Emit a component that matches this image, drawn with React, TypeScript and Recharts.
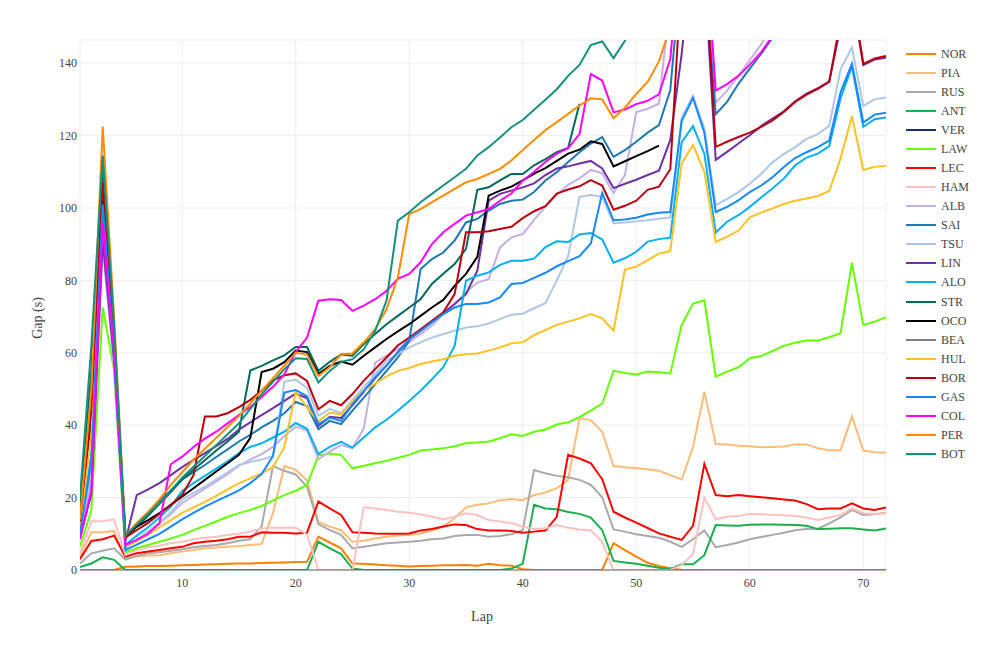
import React from 'react';
import { LineChart, Line, XAxis, YAxis, CartesianGrid } from 'recharts';

type V = number | null;

const laps: number[] = [
  1, 2, 3, 4, 5, 6, 7, 8, 9, 10, 11, 12, 13, 14, 15, 16, 17, 18, 19, 20,
  21, 22, 23, 24, 25, 26, 27, 28, 29, 30, 31, 32, 33, 34, 35, 36, 37, 38, 39, 40,
  41, 42, 43, 44, 45, 46, 47, 48, 49, 50, 51, 52, 53, 54, 55, 56, 57, 58, 59, 60,
  61, 62, 63, 64, 65, 66, 67, 68, 69, 70, 71, 72,
];

const xTicks = [10, 20, 30, 40, 50, 60, 70];
const yTicks = [0, 20, 40, 60, 80, 100, 120, 140];

const NOR: V[] = [
  0, 0, 0, 0, 0.9, 1.0, 1.1, 1.1, 1.2, 1.3,
  1.4, 1.5, 1.6, 1.7, 1.8, 1.8, 1.9, 2.0, 2.1, 2.2,
  2.3, 9.2, 7.6, 6.0, 1.8, 1.7, 1.5, 1.3, 1.2, 1.0,
  1.1, 1.2, 1.3, 1.3, 1.4, 1.2, 1.7, 1.3, 1.2, 0.2,
  0, 0, 0, 0, 0, 0, 0, 7.4, 5.5, 3.7,
  2.0, 1.1, 0.5, 0, 0, 0, 0, 0, 0, 0,
  0, 0, 0, 0, 0, 0, 0, 0, 0, 0,
  0, 0,
];
const PIA: V[] = [
  3.7, 10.4, 10.4, 10.8, 3.2, 3.7, 4.0, 4.1, 4.6, 5.1,
  5.5, 6.0, 6.2, 6.4, 6.6, 6.9, 7.2, 15.7, 28.7, 27.7,
  24.7, 13.3, 12.0, 11.0, 7.8, 8.1, 8.7, 9.2, 9.5, 9.7,
  10.1, 10.9, 12.0, 14.3, 17.3, 18.0, 18.4, 19.3, 19.6, 19.3,
  20.7, 21.4, 22.6, 24.9, 41.9, 41.4, 38.2, 28.7, 28.4, 28.1,
  27.8, 27.4, 26.2, 25.0, 34.0, 49.2, 34.8, 34.7, 34.3, 34.2,
  33.9, 34.0, 34.1, 34.7, 34.7, 33.6, 33.1, 33.1, 42.5, 33.0,
  32.5, 32.4,
];
const RUS: V[] = [
  1.8, 4.6, 5.3, 6.0, 2.9, 3.9, 4.6, 4.9, 5.3, 5.7,
  6.3, 6.6, 6.9, 7.4, 8.1, 8.5, 12.0, 28.7, 27.4, 26.4,
  23.0, 12.7, 11.0, 9.7, 6.0, 6.4, 6.9, 7.4, 7.6, 7.8,
  8.1, 8.5, 8.7, 9.4, 9.7, 9.7, 9.2, 9.4, 9.9, 11.0,
  27.6, 26.7, 26.0, 25.6, 24.9, 23.5, 20.1, 11.2, 10.6, 9.9,
  9.4, 8.9, 7.8, 6.4, 8.5, 10.9, 6.3, 6.9, 7.6, 8.5,
  9.1, 9.7, 10.3, 11.0, 11.3, 11.4, 12.9, 14.5, 16.6, 15.2,
  15.4, 15.8,
];
const ANT: V[] = [
  0.8, 1.8, 3.5, 2.8, 0, 0, 0, 0, 0, 0,
  0, 0, 0, 0, 0, 0, 0, 0, 0, 0,
  0, 7.8, 6.0, 4.4, 0.4, 0, 0, 0, 0, 0,
  0, 0, 0, 0, 0, 0, 0, 0, 0.4, 1.7,
  18.0, 17.0, 16.8, 16.0, 15.5, 14.5, 11.0, 2.5, 2.1, 1.7,
  1.2, 0.6, 0.3, 1.6, 1.6, 4.1, 12.4, 12.3, 12.2, 12.5,
  12.6, 12.6, 12.5, 12.4, 12.2, 11.3, 11.4, 11.5, 11.5, 11.2,
  10.9, 11.5,
];
const VER: V[] = [];
const LAW: V[] = [
  6.5, 16.4, 72.5, 55.3, 4.8, 6.0, 6.9, 7.8, 8.7, 9.7,
  11.0, 12.2, 13.4, 14.7, 15.7, 16.6, 17.7, 19.2, 20.7, 21.9,
  23.5, 31.6, 32.2, 31.8, 28.1, 28.8, 29.5, 30.2, 31.0, 31.8,
  33.0, 33.3, 33.6, 34.2, 35.0, 35.2, 35.5, 36.4, 37.5, 37.0,
  38.2, 38.8, 40.2, 40.8, 42.2, 44.0, 46.0, 55.0, 54.4, 54.0,
  54.8, 54.6, 54.3, 67.7, 73.6, 74.5, 53.4, 54.8, 56.0, 58.5,
  59.1, 60.5, 61.9, 62.8, 63.4, 63.4, 64.3, 65.4, 84.9, 67.7,
  68.6, 69.8,
];
const LEC: V[] = [
  3.0, 8.0, 8.5, 9.5, 3.7, 4.6, 5.1, 5.5, 6.0, 6.4,
  7.4, 7.8, 8.1, 8.5, 9.2, 9.2, 10.4, 10.3, 10.3, 10.1,
  10.3, 18.9, 17.0, 15.2, 10.4, 10.3, 10.1, 10.0, 10.0, 10.1,
  10.9, 11.3, 12.0, 12.6, 12.4, 11.3, 10.9, 10.9, 10.8, 10.3,
  10.6, 10.9, 14.7, 31.8, 30.8, 29.5, 25.1, 16.1, 14.5, 13.1,
  11.6, 10.1, 9.2, 8.3, 12.2, 29.3, 20.7, 20.4, 20.7, 20.4,
  20.1, 19.8, 19.5, 19.2, 18.2, 16.8, 17.0, 17.0, 18.4, 17.0,
  16.6, 17.3,
];
const HAM: V[] = [
  4.5, 13.5, 13.5, 14.0, 4.1, 5.5, 6.3, 6.7, 7.4, 7.8,
  8.5, 8.9, 9.2, 9.7, 10.1, 10.6, 11.5, 11.7, 11.7, 11.7,
  9.8, 0, 0, 0, 0, 17.3, 17.0, 16.6, 16.1, 15.8,
  15.4, 14.7, 14.0, 14.7, 15.7, 15.2, 13.8, 13.4, 12.9, 12.0,
  11.3, 11.5, 12.4, 11.7, 11.2, 11.0, 7.8, 0, 0, 0,
  0, 0, 0, 1.4, 4.4, 20.0, 14.0, 14.7, 14.9, 15.5,
  15.4, 15.2, 15.1, 14.9, 14.5, 13.8, 14.5, 15.2, 17.0, 15.7,
  15.5, 15.7,
];
const ALB: V[] = [
  9.0, 25.0, 89.0, 56.0, 6.0, 8.2, 10.5, 12.8, 15.5, 18.5,
  20.5, 22.5, 24.5, 26.5, 28.8, 30.5, 32.0, 34.0, 37.0, 39.6,
  38.5, 30.6, 32.7, 34.5, 33.6, 39.1, 57.3, 59.2, 61.0, 62.9,
  65.2, 67.5, 70.7, 73.5, 76.7, 79.4, 80.3, 89.1, 91.9, 92.8,
  96.7, 100.4, 103.6, 106.4, 108.2, 110.5, 109.6, 104.1, 109.1, 126.5,
  127.4, 128.8, 158, 176, 185, 168, 129.1, 132.4, 136.5, 140.8,
  145.2, 150, 155, 158, 162, 165, 168, 175, 182, 172,
  174, 176,
];
const SAI: V[] = [
  12.0, 42.0, 110.0, 64.0, 9.0, 12.5, 15.8, 19.0, 22.0, 25.0,
  27.0, 29.0, 31.2, 33.3, 35.5, 37.3, 39.4, 41.2, 43.3, 46.4,
  45.3, 38.9, 41.2, 40.3, 44.0, 47.6, 51.3, 55.0, 58.7, 63.3,
  83.1, 85.9, 87.7, 91.0, 96.0, 97.0, 99.3, 101.1, 102.0, 102.3,
  104.4, 107.6, 109.9, 112.7, 115.4, 117.8, 119.6, 114.1, 116.0, 118.3,
  120.8, 122.9, 132.6, 168, 180, 165, 125.9, 129.3, 134.3, 138.5,
  142.6, 147, 152, 156, 160, 163, 166, 172, 178, 170,
  172, 174,
];
const TSU: V[] = [
  9.5, 28.0, 94.0, 57.0, 6.5, 8.5, 10.8, 13.0, 16.0, 19.5,
  21.3, 23.0, 25.0, 27.0, 29.0, 29.8, 30.5, 31.5, 52.0, 52.6,
  50.3, 42.6, 44.5, 43.3, 47.0, 50.5, 54.0, 57.8, 59.6, 61.5,
  62.9, 64.2, 65.2, 66.1, 67.0, 67.3, 68.1, 69.3, 70.5, 70.8,
  72.3, 73.7, 80.0, 86.7, 103.1, 103.6, 103.1, 95.8, 96.0, 96.3,
  96.6, 97.0, 97.4, 125.0, 131.0, 122.0, 100.7, 102.5, 104.4, 106.7,
  109.4, 112.6, 114.9, 116.8, 119.1, 120.4, 122.7, 138.3, 144.3, 128.2,
  130.0, 130.5,
];
const LIN: V[] = [
  9.0, 21.0, 91.0, 58.0, 8.0, 20.7, 22.3, 24.0, 26.2, 28.4,
  30.4, 32.3, 34.2, 36.2, 38.8, 40.8, 42.8, 44.7, 46.7, 48.7,
  47.5, 39.8, 42.3, 42.0, 45.5, 49.2, 53.0, 56.5, 60.2, 63.7,
  66.0, 68.5, 71.0, 73.5, 76.2, 82.7, 102.0, 103.9, 104.8, 105.7,
  106.8, 109.1, 110.9, 111.5, 112.3, 113.0, 110.9, 105.5, 106.7, 107.8,
  109.1, 110.3, 118.8, 142.6, 172, 166, 113.3, 115.5, 117.8, 120.1,
  122.6, 124.7, 126.7, 129.5, 131.6, 133.1, 135.0, 150, 158, 139.5,
  141.0, 141.5,
];
const ALO: V[] = [
  10.5, 32.0, 97.0, 60.0, 7.0, 9.5, 11.8, 14.5, 17.5, 21.8,
  24.0, 26.0, 28.0, 30.0, 32.3, 34.0, 35.0, 36.6, 38.2, 40.6,
  39.0, 32.0, 34.0, 35.4, 33.8, 36.6, 39.4, 41.5, 44.0, 46.7,
  49.5, 52.7, 56.0, 61.9, 79.9, 81.3, 82.2, 84.3, 85.4, 85.4,
  86.0, 89.2, 90.8, 90.6, 92.7, 93.1, 91.3, 84.9, 86.1, 87.9,
  90.7, 91.4, 91.8, 118.2, 122.6, 115.0, 93.2, 96.2, 98.0, 100.3,
  102.9, 105.4, 108.1, 111.8, 113.9, 115.0, 117.1, 130.3, 139.1, 122.4,
  124.5, 125.0,
];
const STR: V[] = [
  17.0, 55.0, 113.0, 66.0, 9.0, 12.0, 15.0, 18.3, 21.5, 25.0,
  27.7, 30.3, 33.0, 35.5, 38.2, 55.1, 56.4, 57.9, 59.3, 61.6,
  61.6, 55.0, 57.5, 59.5, 59.2, 62.4, 65.2, 67.9, 70.2, 72.5,
  74.8, 79.0, 81.8, 84.5, 88.7, 105.0, 105.7, 107.6, 109.4, 109.4,
  111.8, 113.5, 115.4, 116.6, 128.8,
];
const OCO: V[] = [
  12.5, 40.0, 103.5, 62.0, 9.5, 12.0, 13.8, 15.7, 18.0, 20.3,
  22.6, 24.9, 27.2, 29.5, 31.8, 36.5, 54.7, 55.6, 57.4, 60.6,
  60.2, 54.1, 56.4, 57.6, 56.7, 59.2, 61.5, 63.8, 65.9, 67.9,
  70.2, 72.5, 74.6, 78.5, 81.8, 86.5, 103.4, 104.8, 105.9, 107.6,
  109.5, 111.0, 113.0, 115.0, 116.1, 118.4, 117.7, 111.5, 112.9, 114.3,
  115.7, 117.2,
];
const BEA: V[] = [];
const HUL: V[] = [
  11.0, 38.0, 98.0, 62.0, 6.5, 8.0, 9.8, 11.8, 13.8, 15.8,
  17.3, 18.8, 20.5, 22.3, 24.0, 25.3, 26.7, 28.4, 34.0, 49.2,
  45.0, 41.0, 43.5, 43.0, 46.5, 49.5, 51.5, 53.5, 55.0, 55.8,
  56.9, 57.6, 58.2, 59.2, 59.6, 59.8, 60.6, 61.5, 62.6, 62.9,
  64.9, 66.3, 67.7, 68.6, 69.5, 70.7, 69.5, 66.1, 83.0, 83.8,
  85.6, 87.4, 88.1, 112.3, 117.4, 110.0, 90.6, 92.1, 93.7, 97.4,
  98.7, 99.9, 101.1, 102.0, 102.6, 103.3, 104.7, 113.7, 125.4, 110.5,
  111.4, 111.6,
];
const BOR: V[] = [
  13.5, 45.0, 107.0, 63.0, 9.0, 11.0, 13.0, 15.5, 18.0, 20.7,
  26.2, 42.4, 42.4, 43.3, 45.0, 47.0, 49.5, 52.4, 53.8, 54.3,
  52.2, 44.4, 46.7, 45.5, 48.6, 52.3, 55.5, 58.7, 62.0, 64.2,
  66.5, 68.8, 71.2, 76.2, 93.3, 93.3, 93.6, 94.2, 94.8, 97.2,
  99.1, 100.5, 104.0, 105.1, 106.0, 107.7, 106.2, 99.5, 100.6, 102.0,
  105.0, 105.9, 110.7, 165, 184, 170, 116.9, 118.3, 119.6, 120.8,
  122.4, 124.2, 126.5, 129.3, 131.3, 132.9, 134.8, 152, 160, 139.8,
  141.3, 142.0,
];
const GAS: V[] = [
  10.0, 30.0, 101.0, 60.0, 5.5, 7.0, 8.5, 10.0, 12.0, 14.0,
  15.8, 17.5, 19.0, 20.5, 22.0, 24.0, 26.5, 31.5, 49.0, 49.7,
  48.0, 40.3, 42.1, 41.2, 45.8, 49.5, 53.2, 56.4, 60.1, 63.8,
  66.1, 68.4, 70.7, 72.5, 73.5, 73.5, 73.9, 75.3, 79.0, 79.3,
  80.7, 82.1, 83.9, 85.3, 86.7, 90.2, 104.2, 96.6, 96.8, 97.3,
  98.2, 98.7, 98.9, 124.0, 130.4, 120.8, 98.9, 100.3, 102.1, 104.4,
  106.2, 108.5, 111.3, 113.8, 115.4, 116.8, 118.6, 132.0, 139.8, 123.6,
  125.8, 126.3,
];
const COL: V[] = [
  8.5, 22.0, 96.0, 60.0, 6.9, 8.3, 10.0, 12.9, 29.2, 31.3,
  34.0, 36.3, 38.2, 40.5, 42.8, 45.0, 47.8, 50.6, 54.0, 60.2,
  64.2, 74.4, 74.8, 74.6, 71.6, 73.0, 74.8, 77.1, 80.4, 81.8,
  85.0, 90.0, 93.3, 95.6, 97.9, 98.8, 99.7, 102.0, 104.0, 107.5,
  110.0, 112.7, 115.0, 116.5, 120.4, 137.0, 135.2, 126.4, 127.2, 128.7,
  129.6, 131.4, 141.2, 176, 192, 178, 132.4, 134.2, 136.5, 139.6,
  143.0, 147.5, 153, 157, 161, 164, 167, 174, 180, 171,
  173, 175,
];
const PER: V[] = [
  14.0, 50.0, 122.5, 70.0, 9.5, 13.0, 16.0, 19.5, 23.5, 27.0,
  30.5, 33.5, 36.5, 39.5, 42.5, 46.0, 49.5, 53.0, 56.5, 60.0,
  59.5, 53.6, 56.0, 59.6, 59.8, 62.9, 66.5, 72.0, 80.8, 98.3,
  99.7, 101.6, 103.4, 105.3, 107.1, 108.0, 109.4, 110.8, 113.1, 116.0,
  118.8, 121.5, 123.7, 126.0, 128.3, 130.3, 130.0, 124.8, 127.7, 131.5,
  134.8, 140.5, 150, 165, 178, 172, 160, 163, 166, 169,
  172, 175, 178, 181, 184, 187, 190, 196, 202, 195,
  198, 201,
];
const BOT: V[] = [
  20.0, 62.0, 114.5, 68.0, 9.5, 12.5, 15.5, 18.5, 22.0, 25.5,
  28.5, 31.5, 34.5, 37.5, 40.5, 44.5, 48.5, 52.0, 55.5, 58.5,
  58.3, 51.8, 55.0, 57.5, 58.2, 61.0, 66.0, 74.4, 96.5, 98.8,
  101.6, 103.9, 106.2, 108.5, 110.8, 114.5, 116.8, 119.5, 122.3, 124.3,
  127.1, 129.9, 132.8, 136.5, 139.5, 145.0, 146.0, 141.4, 146.2, 152,
  155, 158, 168, 185, 198, 190, 172, 175, 178, 181,
  184, 187, 190, 193, 196, 199, 202, 208, 215, 207,
  210, 213,
];

const drivers = [
  'NOR', 'PIA', 'RUS', 'ANT', 'VER', 'LAW', 'LEC', 'HAM', 'ALB', 'SAI', 'TSU',
  'LIN', 'ALO', 'STR', 'OCO', 'BEA', 'HUL', 'BOR', 'GAS', 'COL', 'PER', 'BOT',
];
const colors = [
  '#FF8000', '#FFBB78', '#A9A9A9', '#1AAE4E', '#1E2A78', '#66FF00', '#FF0000',
  '#FFC0C0', '#C5B0E5', '#1F78B4', '#AEC7E8', '#7030A0', '#00B0F0', '#00695C',
  '#000000', '#808080', '#FFC125', '#B80010', '#1888FF', '#FF00FF', '#FF8C00',
  '#14907F',
];
const seriesList: V[][] = [
  NOR, PIA, RUS, ANT, VER, LAW, LEC, HAM, ALB, SAI, TSU,
  LIN, ALO, STR, OCO, BEA, HUL, BOR, GAS, COL, PER, BOT,
];

const data = laps.map((lap, i) => {
  const row: Record<string, number | null> = { lap };
  drivers.forEach((d, j) => {
    const v = seriesList[j][i];
    row[d] = v === undefined ? null : v;
  });
  return row;
});

const FONT = '"Liberation Serif", "Times New Roman", Times, serif';
const tickStyle = { fill: '#444', fontSize: 12, fontFamily: FONT };

export default function App() {
  return (
    <div style={{ position: 'relative', width: 970, height: 634, fontFamily: FONT, background: '#fff' }}>
      <LineChart
        width={970}
        height={634}
        data={data}
        margin={{ top: 32, right: 92, bottom: 42, left: 0 }}
      >
        <CartesianGrid stroke="#eeeeee" strokeWidth={1} />
        <XAxis
          type="number"
          dataKey="lap"
          domain={[1, 72]}
          ticks={xTicks}
          allowDataOverflow
          height={30}
          tickLine={false}
          tickSize={0}
          tickMargin={8}
          axisLine={{ stroke: '#666', strokeWidth: 1 }}
          tick={tickStyle}
        />
        <YAxis
          type="number"
          domain={[0, 146.4]}
          ticks={yTicks}
          allowDataOverflow
          width={72}
          axisLine={false}
          tickLine={false}
          tickSize={0}
          tickMargin={3}
          tick={tickStyle}
        />
        {drivers.map((d, j) => (
          <Line
            key={d}
            type="linear"
            dataKey={d}
            stroke={colors[j]}
            strokeWidth={2}
            dot={false}
            activeDot={false}
            isAnimationActive={false}
          />
        ))}
      </LineChart>
      <div
        style={{
          position: 'absolute', left: 474, top: 601, transform: 'translateX(-50%)',
          fontSize: 14, lineHeight: '16px', color: '#444', whiteSpace: 'nowrap',
        }}
      >
        Lap
      </div>
      <div
        style={{
          position: 'absolute', left: 30, top: 310, transform: 'translate(-50%, -50%) rotate(-90deg)',
          fontSize: 14, lineHeight: '16px', color: '#444', whiteSpace: 'nowrap',
        }}
      >
        Gap (s)
      </div>
      <div style={{ position: 'absolute', left: 898, top: 36.8 }}>
        {drivers.map((d, j) => (
          <div key={d} style={{ display: 'flex', alignItems: 'center', height: 19.03 }}>
            <svg width={30} height={6} style={{ display: 'block' }}>
              <line x1={0} y1={3} x2={30} y2={3} stroke={colors[j]} strokeWidth={2} />
            </svg>
            <span style={{ marginLeft: 5, fontSize: 12, lineHeight: '14px', color: '#444' }}>{d}</span>
          </div>
        ))}
      </div>
    </div>
  );
}
